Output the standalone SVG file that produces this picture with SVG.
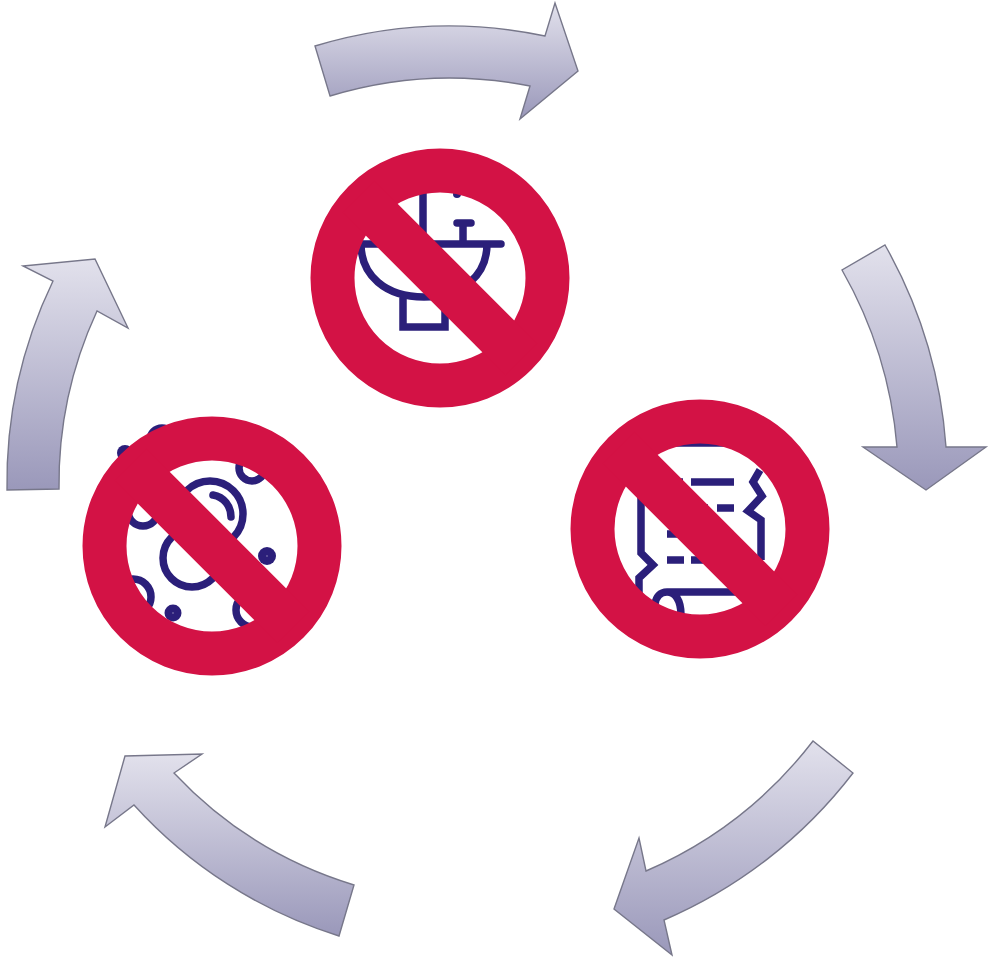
<svg xmlns="http://www.w3.org/2000/svg" width="989" height="958" viewBox="0 0 989 958">
<style>
.arrow{fill:url(#ag);stroke:#77778a;stroke-width:1.4;stroke-linejoin:miter}
.ring{fill:none;stroke:#d31245;stroke-width:44}
.slash{fill:#d31245}
.ic{fill:none;stroke:#2b1f7a;stroke-width:7.500}
.rc{stroke-linecap:round}
.dot{fill:#2b1f7a}
.pip{fill:#8f89b8}
</style>
<defs>
<linearGradient id="ag" x1="0" y1="0" x2="0" y2="1"><stop offset="0" stop-color="#e2e1ec"/><stop offset="1" stop-color="#9a98ba"/></linearGradient>
</defs>
<rect width="989" height="958" fill="#fff"/>
<g id="connectors">
<path class="arrow" d="M315 46A465 465 0 0 1 545 36L555 3L578 71L520 119L530 86A412 412 0 0 0 330 96Z"/>
<path class="arrow" d="M885 245A480 480 0 0 1 946 447L986 447L926 490L863 447L897 447A430 430 0 0 0 842 270Z"/>
<path class="arrow" d="M853 773A474 474 0 0 1 664 920L672 955L614 909L639 838L646 871A422 422 0 0 0 813 741Z"/>
<path class="arrow" d="M339 936A463 463 0 0 1 134 805L105 827L125 756L202 754L174 773A411 411 0 0 0 354 885Z"/>
<path class="arrow" d="M7 490A465 465 0 0 1 53 281L23 266L95 259L128 328L97 311A412 412 0 0 0 59 489Z"/>
</g>
<g id="node-sink">
<path class="ic" d="M423 190V250"/>
<circle class="dot" cx="457" cy="194" r="4"/>
<path class="ic rc" d="M457 223H471M463 223V244M361 244H501"/>
<path class="ic" d="M361 244C361 275 385 297 424 297C463 297 487 275 487 244M403 297V327H445V297"/>
<circle class="ring" cx="440" cy="278" r="107.500"/>
<rect class="slash" x="325" y="255.500" width="230" height="45" transform="rotate(45 440 278)"/>
</g>
<g id="node-germs">
<circle class="ic" cx="210" cy="514" r="33"/>
<path class="ic rc" d="M213 495C224 497 231 506 231 517"/>
<circle class="ic" cx="192" cy="558" r="29"/>
<circle class="ic" cx="252" cy="468" r="13"/>
<circle class="ic" cx="143" cy="511" r="15"/>
<circle class="ic" cx="133" cy="597" r="18"/>
<circle class="ic" cx="253" cy="610" r="17"/>
<circle class="dot" cx="267" cy="556" r="9"/>
<circle class="pip" cx="267" cy="556" r="0.800"/>
<circle class="dot" cx="173" cy="613" r="8.500"/>
<circle class="pip" cx="173" cy="613" r="0.800"/>
<circle class="dot" cx="125" cy="453" r="8"/>
<circle class="ic" cx="162" cy="440" r="12"/>
<circle class="ring" cx="212" cy="546" r="107.500"/>
<rect class="slash" x="97" y="523.500" width="230" height="45" transform="rotate(45 212 546)"/>
</g>
<g id="node-document">
<path class="ic" d="M641 497V553L653 565L639 578V600M675 443H725M760 470L753 482L762 496L748 511L761 520V560M655 604C656 597 660 592 667 592H737M667 592C675 592 681 600 681 615"/>
<path class="ic" d="M675 482H683M691 482H734M700 508H708M717 508H734M667 534H677M667 560H684M691 560H703"/>
<circle class="ring" cx="700" cy="529" r="107.500"/>
<rect class="slash" x="585" y="506.500" width="230" height="45" transform="rotate(45 700 529)"/>
</g>
</svg>
